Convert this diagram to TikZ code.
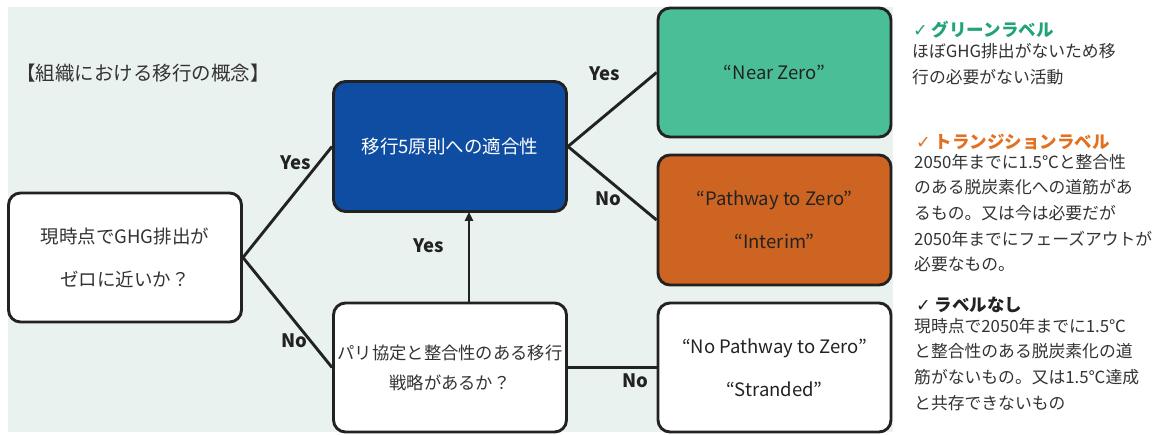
\documentclass[tikz,border=0pt]{standalone}
\usepackage{fontspec}
\setmainfont{Noto Sans CJK JP}
\newfontfamily\symfont{DejaVu Sans}
\usetikzlibrary{arrows.meta}
\definecolor{bgpanel}{HTML}{EAF2EF}
\definecolor{boxblue}{HTML}{0F4DA2}
\definecolor{boxgreen}{HTML}{4ABF97}
\definecolor{boxorange}{HTML}{CD6421}
\definecolor{edge}{HTML}{222222}
\definecolor{txt}{HTML}{333333}
\definecolor{hdgreen}{HTML}{1FA47A}
\definecolor{hdorange}{HTML}{E2701F}
\tikzset{
  flowbox/.style={draw=edge, line width=2.9pt, rounded corners=12pt, minimum width=233pt, minimum height=129pt, inner sep=0pt, align=center, text=txt, font=\fontsize{18.5}{43}\selectfont},
  conn/.style={draw=edge, line width=2.9pt},
  ynlabel/.style={font=\fontsize{18.5}{20}\selectfont\bfseries, text=edge, inner sep=0pt},
  sidehead/.style={anchor=west, inner sep=0pt, font=\fontsize{17.5}{20}\selectfont\bfseries},
  sidebody/.style={anchor=north west, inner sep=0pt, align=left, text=txt, font=\fontsize{16.8}{25.6}\selectfont},
}
\begin{document}
\begin{tikzpicture}[x=1pt,y=-1pt]
\useasboundingbox (0,0) rectangle (1154,434);
\fill[white] (0,0) rectangle (1154,434);
\fill[bgpanel] (8,7) rectangle (893,432);

\node[anchor=west, inner sep=0pt, text=txt, font=\fontsize{19.5}{20}\selectfont] (title) at (16,73) {【組織における移行の概念】};

\node[flowbox, fill=white] (q1) at (125,257.5) {現時点でGHG排出が\\ゼロに近いか？};
\node[flowbox, fill=boxblue, text=white, minimum height=130pt] (blue) at (450,146.5) {移行5原則への適合性};
\node[flowbox, fill=white, font=\fontsize{17.3}{30}\selectfont] (paris) at (450,367.5) {パリ協定と整合性のある移行\\戦略があるか？};
\node[flowbox, fill=boxgreen, text=edge] (near) at (774.5,72.5) {“Near Zero”};
\node[flowbox, fill=boxorange, text=edge, minimum height=130pt] (path) at (774.5,220) {“Pathway to Zero”\\“Interim”};
\node[flowbox, fill=white, text=edge] (nopath) at (774.5,367.5) {“No Pathway to Zero”\\“Stranded”};

\draw[conn] (q1.east) -- (blue.west);
\draw[conn] (q1.east) -- (paris.west);
\draw[conn, -{Triangle[length=9pt,width=8pt]}] ([xshift=19pt]paris.north) -- ([xshift=19pt,yshift=1pt]blue.south);
\draw[conn] (blue.east) -- (near.west);
\draw[conn] (blue.east) -- (path.west);
\draw[conn] (paris.east) -- (nopath.west);

\node[ynlabel] (y1) at (296,163) {Yes};
\node[ynlabel] (n1) at (294,341) {No};
\node[ynlabel] (y2) at (429,246) {Yes};
\node[ynlabel] (y3) at (605,74) {Yes};
\node[ynlabel] (n2) at (608,199) {No};
\node[ynlabel] (n3) at (635,381) {No};

\node[sidehead, text=hdgreen] (h1) at (913,30) {{\symfont ✓} グリーンラベル};
\node[sidebody] (b1) at (912,43) {ほぼGHG排出がないため移\\行の必要がない活動};
\node[sidehead, text=hdorange] (h2) at (916,142) {{\symfont ✓} トランジションラベル};
\node[sidebody] (b2) at (914,154) {2050年までに1.5℃と整合性\\のある脱炭素化への道筋があ\\るもの。又は今は必要だが\\2050年までにフェーズアウトが\\必要なもの。};
\node[sidehead, text=edge] (h3) at (916,305) {{\symfont ✓} ラベルなし};
\node[sidebody] (b3) at (914,318) {現時点で2050年までに1.5℃\\と整合性のある脱炭素化の道\\筋がないもの。又は1.5℃達成\\と共存できないもの};
\end{tikzpicture}
\end{document}
